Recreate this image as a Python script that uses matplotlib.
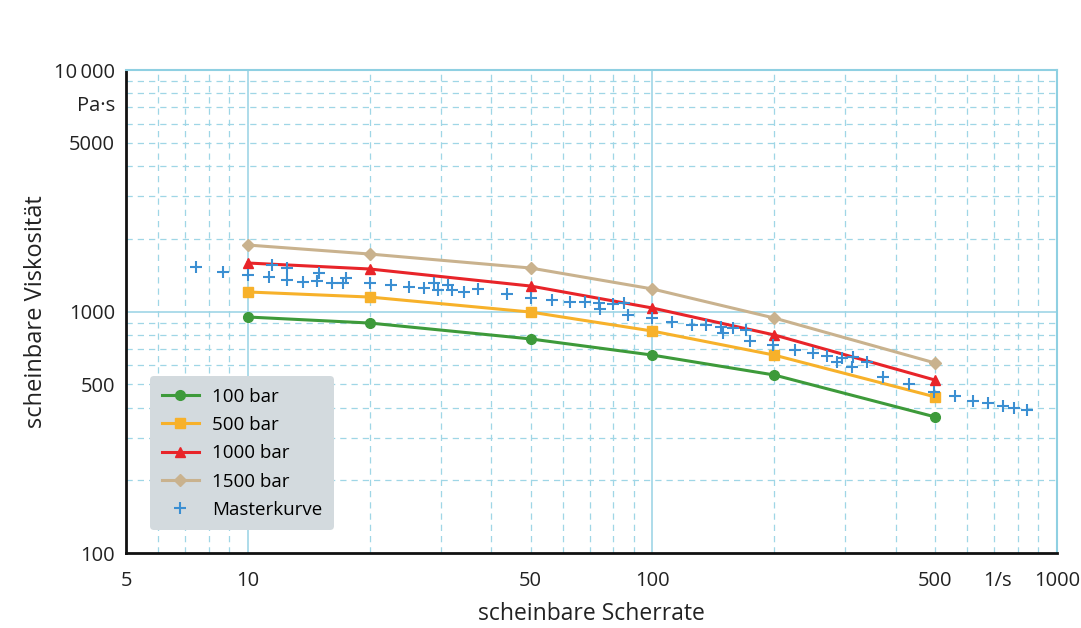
import matplotlib
matplotlib.use('Agg')
import matplotlib.pyplot as plt
from matplotlib.ticker import FixedLocator, LogLocator, NullFormatter

plt.rcParams['font.family'] = ['Open Sans', 'DejaVu Sans']

# shear rates of the measured curves
shear_rate = [10, 20, 50, 100, 200, 500]
# apparent viscosity per pressure
visc_100 = [949, 896, 770, 660, 546, 366]
visc_500 = [1205, 1148, 995, 830, 660, 443]
visc_1000 = [1588, 1500, 1275, 1034, 800, 520]
visc_1500 = [1885, 1730, 1514, 1240, 940, 612]

# master curve points
master_x = [7.45, 8.68, 10.0, 11.3, 11.5, 12.5, 12.5, 13.7, 14.8, 15.0,
            16.1, 17.2, 17.5, 20.0, 22.6, 25.0, 27.3, 28.8, 29.5, 31.3,
            32.0, 34.2, 37.1, 43.7, 50.1, 56.5, 62.6, 68.1, 73.8, 74.2,
            79.9, 85.1, 87.0, 99.8, 112, 125, 136, 148, 149.5, 158,
            170, 174, 199, 225, 249, 270, 286, 294, 313, 312,
            339, 372, 431, 497, 560, 620, 675, 736, 783, 843]
master_y = [1528, 1459, 1416, 1390, 1560, 1514, 1349, 1324, 1337, 1443,
            1312, 1312, 1377, 1312, 1289, 1263, 1251, 1312, 1227, 1289,
            1227, 1205, 1239, 1180, 1137, 1117, 1095, 1095, 1084, 1024,
            1074, 1084, 968, 940, 905, 879, 879, 863, 815, 855,
            838, 755, 726, 693, 673, 654, 618, 641, 648, 589,
            618, 535, 501, 464, 447, 426, 418, 406, 399, 391]

# tick positions, the unit labels sit in between like extra ticks
x_ticks = [5, 10, 50, 100, 500, 711, 1000]
x_tick_labels = ['5', '10', '50', '100', '500', '1/s', '1000']
y_ticks = [100, 500, 1000, 5000, 7300, 10000]
y_tick_labels = ['100', '500', '1000', '5000', 'Pa\u00b7s', '10\u2009000']

grid_col = '#9fd6e6'

fig = plt.figure(figsize=(10.81, 6.28), dpi=100)
ax = fig.add_axes([0.1166, 0.1194, 0.8612, 0.7691])
ax.set_xscale('log')
ax.set_yscale('log')
ax.set_xlim(5, 1000)
ax.set_ylim(100, 10000)

# curves
ax.plot(shear_rate, visc_100, color='#3d9a3a', lw=2.2, marker='o', ms=7, label='100 bar')
ax.plot(shear_rate, visc_500, color='#f7b12a', lw=2.2, marker='s', ms=7, label='500 bar')
ax.plot(shear_rate, visc_1000, color='#e82429', lw=2.2, marker='^', ms=7, label='1000 bar')
ax.plot(shear_rate, visc_1500, color='#c9b28e', lw=2.2, marker='D', ms=6, label='1500 bar')
ax.plot(master_x, master_y, ls='none', marker='+', ms=8, mew=1.5, color='#3b8fd2', label='Masterkurve')

# ticks
ax.xaxis.set_major_locator(FixedLocator(x_ticks))
ax.set_xticklabels(x_tick_labels)
ax.yaxis.set_major_locator(FixedLocator(y_ticks))
ax.set_yticklabels(y_tick_labels)
ax.xaxis.set_minor_locator(LogLocator(base=10, subs=range(2, 10)))
ax.yaxis.set_minor_locator(LogLocator(base=10, subs=range(2, 10)))
ax.xaxis.set_minor_formatter(NullFormatter())
ax.yaxis.set_minor_formatter(NullFormatter())
ax.tick_params(which='both', length=0, labelsize=14.5, colors='#222222')
ax.tick_params(axis='x', pad=13)
ax.tick_params(axis='y', pad=8)

# grids: solid on decades, dashed for the rest
ax.grid(False)
for v in [10, 100]:
    ax.axvline(v, color=grid_col, lw=1.2, zorder=0)
ax.axhline(1000, color=grid_col, lw=1.2, zorder=0)
for v in [6, 7, 8, 9, 20, 30, 40, 50, 60, 70, 80, 90,
          200, 300, 400, 500, 600, 700, 800, 900]:
    ax.axvline(v, color=grid_col, lw=0.9, ls=(0, (5, 4)), zorder=0)
for d in [100, 1000]:
    for s in range(2, 10):
        ax.axhline(d * s, color=grid_col, lw=0.9, ls=(0, (5, 4)), zorder=0)

# spines
for side in ['left', 'bottom']:
    ax.spines[side].set_linewidth(2)
    ax.spines[side].set_color('#111111')
for side in ['top', 'right']:
    ax.spines[side].set_linewidth(1.5)
    ax.spines[side].set_color('#8fd0e2')

ax.set_xlabel('scheinbare Scherrate', fontsize=16.5, labelpad=8, color='#222222')
ax.set_ylabel('scheinbare Viskosität', fontsize=17, labelpad=4, color='#222222')

leg = ax.legend(loc='lower left', bbox_to_anchor=(0.016, 0.028), fontsize=13.5,
                frameon=True, fancybox=True, facecolor='#d3dade', edgecolor='none',
                framealpha=1, handlelength=2.0, handletextpad=0.7,
                labelspacing=0.55, borderpad=0.6)

fig.savefig('out.png', dpi=100)
